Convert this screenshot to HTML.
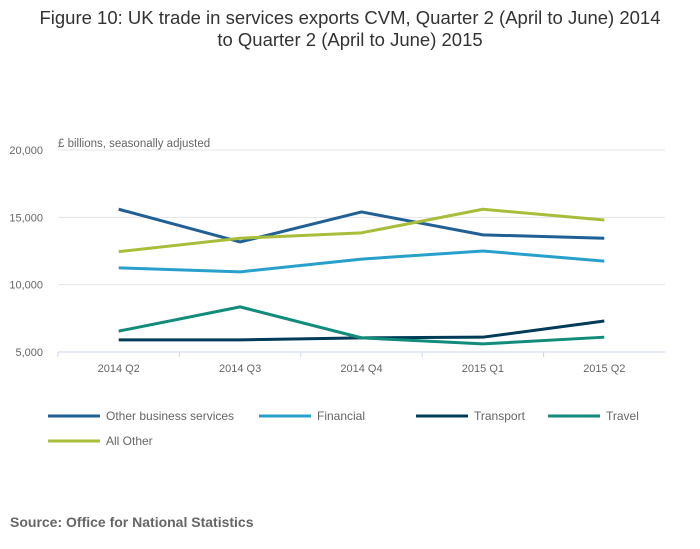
<!DOCTYPE html>
<html><head><meta charset="utf-8"><style>
body{margin:0;background:#fff;font-family:"Liberation Sans",sans-serif;}
#wrap{position:relative;width:700px;height:549px;overflow:hidden;}
</style></head><body>
<div id="wrap">
<svg id="chart" width="700" height="549">
<text x="350" y="24" text-anchor="middle" font-size="18.5" fill="#333">Figure 10: UK trade in services exports CVM, Quarter 2 (April to June) 2014</text>
<text x="350" y="46" text-anchor="middle" font-size="18.5" fill="#333">to Quarter 2 (April to June) 2015</text>
<text x="58" y="147" font-size="11.5" fill="#666">£ billions, seasonally adjusted</text>
<g id="grid"></g><g id="axes"></g><g id="series"></g><g id="legend"></g>
<text x="10" y="527" font-size="14" font-weight="bold" fill="#666">Source: Office for National Statistics</text>
</svg>
</div>
<script>
const categories=["2014 Q2","2014 Q3","2014 Q4","2015 Q1","2015 Q2"];
const yTicks=[5000,10000,15000,20000];
const yTickLabels=["5,000","10,000","15,000","20,000"];
const seriesNames=["Other business services","Financial","Transport","Travel","All Other"];
const otherBusiness=[15600,13170,15400,13700,13450];
const financial=[11250,10950,11900,12500,11750];
const transport=[5900,5900,6050,6100,7300];
const travel=[6550,8350,6050,5600,6100];
const allOther=[12450,13450,13850,15600,14800];
const seriesData=[otherBusiness,financial,transport,travel,allOther];
const colors=["#206095","#27a0cc","#003c57","#118c7b","#a8bd3a"];
const NS="http://www.w3.org/2000/svg";
const x0=58,x1=665,yTop=150,yBot=352;
function xs(i){return x0+(x1-x0)/categories.length*(i+0.5);}
function ys(v){return yBot-(v-5000)/15000*(yBot-yTop);}
function mk(t,a,p){const e=document.createElementNS(NS,t);for(const k in a)e.setAttribute(k,a[k]);p.appendChild(e);return e;}
const grid=document.getElementById('grid'),axes=document.getElementById('axes'),ser=document.getElementById('series'),leg=document.getElementById('legend');
yTicks.forEach((t,i)=>{
 const l=mk('line',{x1:x0,x2:x1,y1:ys(t),y2:ys(t),stroke:i==0?'#ccd6eb':'#e6e6e6','stroke-width':1},grid);
 
 
 const tx=mk('text',{x:43,y:ys(t)+4,'text-anchor':'end','font-size':11,fill:'#666'},axes);
 tx.textContent=yTickLabels[i];
 
 
});
categories.forEach((c,i)=>{
 const tk=mk('line',{x1:x0+(x1-x0)/5*i,x2:x0+(x1-x0)/5*i,y1:yBot,y2:yBot+5,stroke:'#ccd6eb'},axes);
 
 
 const tx=mk('text',{x:xs(i),y:372,'text-anchor':'middle','font-size':11,fill:'#666'},axes);
 tx.textContent=c;
 
 
});
seriesData.forEach((d,s)=>{
 const pts=d.map((v,i)=>xs(i)+','+ys(v)).join(' ');
 const pl=mk('polyline',{points:pts,fill:'none',stroke:colors[s],'stroke-width':3,'stroke-linejoin':'round'},ser);
 
 
});
const legPos=[[48,416],[259,416],[416,416],[548,416],[48,441]];
seriesNames.forEach((n,s)=>{
 const g=mk('g',{},leg);
 
 
 const [lx,ly]=legPos[s];
 mk('line',{x1:lx,x2:lx+52,y1:ly,y2:ly,stroke:colors[s],'stroke-width':3},g);
 const t=mk('text',{x:lx+58,y:ly+4,'font-size':12,fill:'#666'},g);
 t.textContent=n;
});
</script>
</body></html>
